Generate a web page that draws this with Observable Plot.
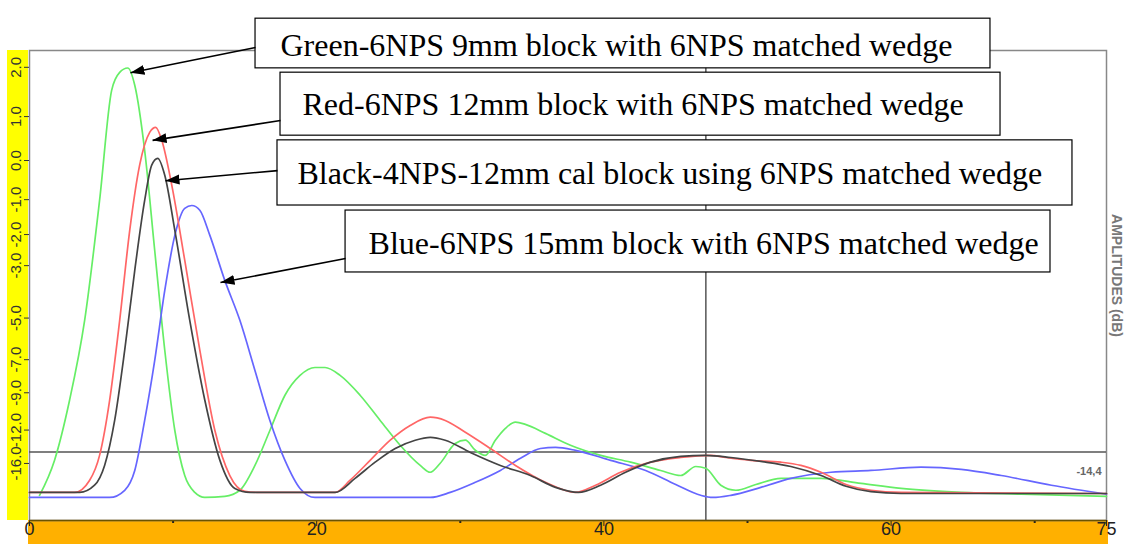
<!DOCTYPE html>
<html><head><meta charset="utf-8">
<script src="https://cdn.jsdelivr.net/npm/d3@7"></script>
<script src="https://cdn.jsdelivr.net/npm/@observablehq/plot@0.6"></script>
<style>body{margin:0;background:#fff;} #chart svg{overflow:visible;display:block}</style>
</head><body><div id="chart"></div>
<script>
// Linear amplitude ratio (0 dB = 1.0)
const greenX = [0.7,1.74,2.79,3.84,4.88,5.72,6.28,6.84,7.33,8.02,8.72,9.42,10.12,10.81,11.51,12.21,13.6,14.65,15.7,16.74,17.79,18.84,19.88,20.58,21.63,23.02,24.42,25.81,27.21,27.91,28.6,29.65,30.35,31.05,31.74,32.44,33.14,33.84,34.53,35.93,37.67,39.77,41.86,43.95,45.35,46.4,47.09,48.14,49.19,50.58,52.33,55.12,57.91,60.7,64.88,69.07,75];
const greenAmp = [0.070,0.167,0.334,0.556,0.889,1.195,1.245,1.257,1.209,1.028,0.750,0.473,0.250,0.125,0.078,0.064,0.067,0.084,0.153,0.250,0.348,0.403,0.425,0.425,0.403,0.348,0.278,0.209,0.153,0.134,0.159,0.214,0.223,0.195,0.181,0.223,0.256,0.273,0.267,0.242,0.209,0.181,0.162,0.139,0.125,0.150,0.145,0.098,0.084,0.100,0.117,0.117,0.103,0.089,0.078,0.073,0.067];

const redX = [0,3.14,4.19,4.88,5.58,6.28,6.98,7.67,8.37,8.79,9.21,9.91,10.81,11.86,12.91,13.95,15.0,16.05,21.28,22.33,23.72,25.12,26.51,27.91,28.95,30.35,32.09,33.84,35.93,38.02,39.42,41.16,43.26,45.35,47.44,48.49,50.23,52.33,53.72,55.12,56.86,58.6,60.7,75];
const redAmp = [0.078,0.078,0.112,0.181,0.334,0.556,0.806,0.987,1.078,1.092,1.056,0.931,0.723,0.473,0.250,0.125,0.081,0.078,0.078,0.112,0.167,0.223,0.264,0.287,0.278,0.245,0.200,0.153,0.106,0.078,0.098,0.134,0.162,0.175,0.181,0.175,0.167,0.162,0.153,0.134,0.100,0.084,0.078,0.075];

const blackX = [0,3.49,4.53,5.23,5.93,6.63,7.33,8.02,8.51,8.93,9.42,10.12,11.16,12.21,13.26,14.3,15.35,21.28,22.67,24.07,25.47,26.86,27.91,28.95,30.7,32.79,34.88,36.63,38.23,39.77,41.51,43.26,45.35,47.09,48.84,50.93,53.02,55.12,56.86,58.6,60.7,75];
const blackAmp = [0.078,0.078,0.098,0.153,0.278,0.473,0.695,0.889,0.987,1.006,0.959,0.806,0.556,0.334,0.167,0.089,0.078,0.078,0.117,0.162,0.200,0.223,0.231,0.223,0.189,0.153,0.125,0.092,0.078,0.098,0.134,0.162,0.178,0.181,0.175,0.164,0.150,0.125,0.095,0.080,0.075,0.075];

const blueX = [0,5.58,6.63,7.33,8.02,8.72,9.42,10.12,10.81,11.3,11.86,12.56,13.6,14.65,15.7,16.74,17.79,18.84,19.88,27.91,29.3,31.05,32.79,34.19,35.58,36.63,38.02,40.47,42.91,45.0,46.74,47.58,48.84,50.93,53.02,55.81,58.6,62.09,64.88,67.67,71.16,75];
const blueAmp = [0.064,0.064,0.084,0.139,0.278,0.445,0.639,0.792,0.867,0.875,0.862,0.792,0.667,0.556,0.417,0.278,0.167,0.089,0.064,0.064,0.078,0.106,0.139,0.173,0.200,0.203,0.195,0.167,0.139,0.100,0.070,0.064,0.070,0.092,0.117,0.134,0.139,0.148,0.142,0.125,0.098,0.073];

const seriesNames = ["Green","Blue","Red","Black"];
const seriesColors = ["#66ee66","#6666ff","#ff6666","#444444"];

const dbTicks = [2,1,0,-1,-2,-3,-5,-7,-9,-12,-16];
const xTicks = [0,20,40,60,75];
const xMinorTicks = [10,30,50,70];
const cursorX = 47.1;
const cursorDb = -14.4;
const yAxisTitle = "AMPLITUDES (dB)";

const annLabels = [
  "Green-6NPS 9mm block with 6NPS matched wedge",
  "Red-6NPS 12mm block with 6NPS matched wedge",
  "Black-4NPS-12mm cal block using 6NPS matched wedge",
  "Blue-6NPS 15mm block with 6NPS matched wedge"
];
// annotation box extents, text anchor and arrow endpoints, in chart units (x, amplitude)
const annBoxX1 = [15.74,17.48,17.27,22.01];
const annBoxX2 = [66.92,67.62,72.63,71.10];
const annBoxTop = [1.394,1.244,1.056,0.861];
const annBoxBottom = [1.256,1.069,0.875,0.689];
const annTextX = [17.48,19.01,18.66,23.61];
const annTextY = [1.320,1.155,0.964,0.769];
const arrowFromX = [15.74,17.48,17.27,22.01];
const arrowFromY = [1.314,1.111,0.972,0.728];
const arrowToX = [7.03,8.57,9.47,13.30];
const arrowToY = [1.244,1.056,0.944,0.661];

const amp = db => Math.pow(10, db / 20);
const series = [
  {x: greenX, y: greenAmp}, {x: blueX, y: blueAmp},
  {x: redX, y: redAmp}, {x: blackX, y: blackAmp}
];
const lineMarks = series.map((s, k) =>
  Plot.line(s.x.map((x, i) => ({x, amp: s.y[i]})), {
    x: "x", y: "amp", stroke: seriesColors[k], strokeWidth: 1.7, curve: "monotone-x"
  })
);
const ann = annLabels.map((label, i) => ({
  label, bx1: annBoxX1[i], bx2: annBoxX2[i], by1: annBoxBottom[i], by2: annBoxTop[i],
  tx: annTextX[i], ty: annTextY[i],
  ax1: arrowFromX[i], ay1: arrowFromY[i], ax2: arrowToX[i], ay2: arrowToY[i]
}));

function filledArrow(color, context) {
  const doc = (context && context.document) || document;
  const m = doc.createElementNS("http://www.w3.org/2000/svg", "marker");
  m.setAttribute("viewBox", "-14 -6 14 12");
  m.setAttribute("markerWidth", 14);
  m.setAttribute("markerHeight", 12);
  m.setAttribute("markerUnits", "userSpaceOnUse");
  m.setAttribute("orient", "auto");
  m.setAttribute("refX", 0);
  m.setAttribute("refY", 0);
  const p = doc.createElementNS("http://www.w3.org/2000/svg", "path");
  p.setAttribute("d", "M0,0L-14,-5L-14,5Z");
  p.setAttribute("fill", "black");
  p.setAttribute("stroke", "none");
  m.appendChild(p);
  return m;
}

const M = {left: 29, right: 19, top: 50, bottom: 24};
const plot = Plot.plot({
  width: 1125, height: 544,
  marginLeft: M.left, marginRight: M.right, marginTop: M.top, marginBottom: M.bottom,
  style: {fontFamily: "Arial, 'Liberation Sans', sans-serif", background: "transparent", overflow: "visible"},
  x: {domain: [0, 75]},
  y: {domain: [0, 1.3056]},
  marks: [
    Plot.frame({stroke: "#888", strokeWidth: 1.5}),
    Plot.axisY(dbTicks.map(amp), {
      tickFormat: d => (Math.round(20 * Math.log10(d) * 10) / 10).toFixed(1),
      tickRotate: -90, tickSize: 5, fontSize: 15, color: "#333", label: null
    }),
    Plot.axisX(xTicks, {tickSize: 6, tickPadding: -4, fontSize: 18, color: "#222", label: null}),
    Plot.axisX(xMinorTicks, {tickSize: 3, strokeWidth: 2, tickFormat: () => "", color: "#222", label: null}),
    Plot.ruleY([0], {stroke: "#6b5200", strokeWidth: 1.5}),
    Plot.ruleY([amp(cursorDb)], {stroke: "#555", strokeWidth: 1.5}),
    Plot.ruleX([cursorX], {stroke: "#555", strokeWidth: 1.5}),
    ...lineMarks,
    Plot.text([cursorDb], {
      y: d => amp(d), frameAnchor: "right", dx: -5, dy: 20, textAnchor: "end",
      text: d => d.toFixed(1).replace(".", ","), fontSize: 11, fontWeight: "bold", fill: "#666"
    }),
    Plot.text([yAxisTitle], {
      frameAnchor: "right", textAnchor: "middle", dx: 10, dy: -10, rotate: 90, fontSize: 14, fill: "#777", fontWeight: "bold"
    }),
    Plot.rect(ann, {x1: "bx1", x2: "bx2", y1: "by1", y2: "by2", fill: "white", stroke: "black", strokeWidth: 1.2}),
    Plot.text(ann, {
      x: "tx", y: "ty", text: "label", textAnchor: "start",
      fontFamily: "'Liberation Serif', 'Times New Roman', serif", fontSize: 32, fill: "black"
    }),
    Plot.link(ann, {x1: "ax1", y1: "ay1", x2: "ax2", y2: "ay2", strokeWidth: 1.6, stroke: "black", markerEnd: filledArrow})
  ]
});

const svg = d3.select(plot);
const H = 544, W = 1125;
svg.insert("rect", ":first-child")
  .attr("x", M.left - 1).attr("y", H - M.bottom).attr("width", W - M.right - M.left + 3).attr("height", M.bottom)
  .attr("fill", "#ffb000");
svg.insert("rect", ":first-child")
  .attr("x", 7).attr("y", M.top).attr("width", M.left - 8).attr("height", H - M.top - M.bottom)
  .attr("fill", "#ffff00");
document.getElementById("chart").appendChild(plot);
</script>
</body></html>
